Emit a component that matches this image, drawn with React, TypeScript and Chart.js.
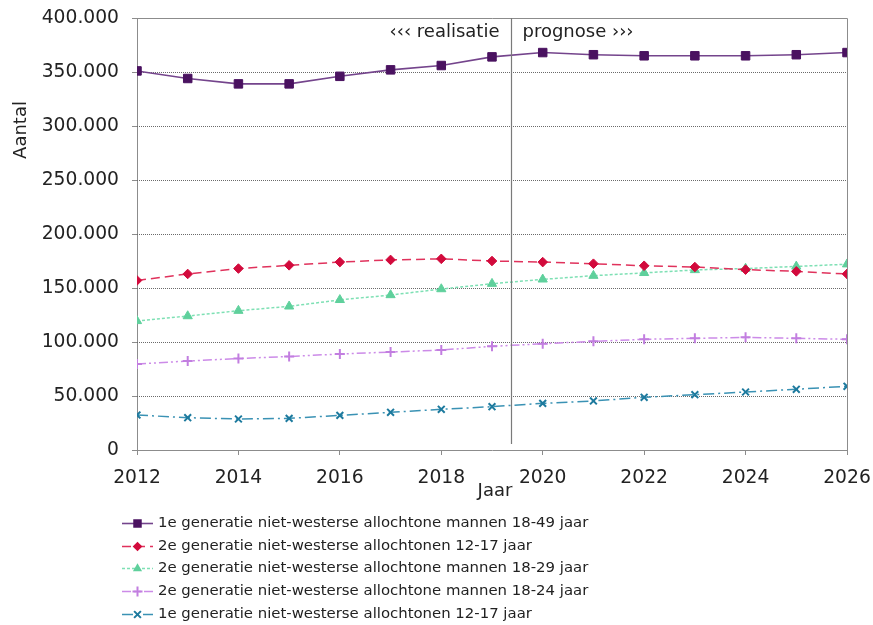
import React, { useEffect, useRef } from "react";
import { Chart, registerables } from "chart.js";

Chart.register(...registerables);

const YEARS = [2012, 2013, 2014, 2015, 2016, 2017, 2018, 2019, 2020, 2021, 2022, 2023, 2024, 2025, 2026];
const SERIES_LABELS = [
  "1e generatie niet-westerse allochtone mannen 18-49 jaar",
  "2e generatie niet-westerse allochtonen 12-17 jaar",
  "2e generatie niet-westerse allochtone mannen 18-29 jaar",
  "2e generatie niet-westerse allochtone mannen 18-24 jaar",
  "1e generatie niet-westerse allochtonen 12-17 jaar",
];
const MANNEN_18_49_1E = [351000, 344000, 339000, 339000, 346000, 352000, 356000, 364000, 368000, 366000, 365000, 365000, 365000, 366000, 368000];
const JONGEREN_12_17_2E = [157000, 163000, 168000, 171000, 174000, 176000, 177000, 175000, 174000, 172500, 170600, 169400, 167000, 165400, 163000];
const MANNEN_18_29_2E = [119500, 124000, 129000, 133000, 139000, 143500, 149000, 154000, 158000, 161400, 164000, 166700, 168000, 170000, 172000];
const MANNEN_18_24_2E = [79600, 82400, 84700, 86600, 88900, 90700, 92600, 96000, 98400, 100600, 102500, 103400, 104300, 103400, 102500];
const JONGEREN_12_17_1E = [32400, 29900, 28700, 29300, 32100, 34900, 37700, 40100, 43200, 45400, 48800, 51200, 53700, 56200, 59000];
const Y_TICKS = [0, 50000, 100000, 150000, 200000, 250000, 300000, 350000, 400000];
const SPLIT_YEAR = 2019.375;
const LEFT_TEXT = "‹‹‹ realisatie";
const RIGHT_TEXT = "prognose ›››";
const Y_TITLE = "Aantal";
const X_TITLE = "Jaar";

const FONT = "'DejaVu Sans', Verdana, sans-serif";

const STYLES = [
  { line: "#74448c", point: "#4a1260", dash: [] as number[], style: "rect", radius: 6, width: 1.6 },
  { line: "#e0325c", point: "#d20a3c", dash: [9, 5], style: "rectRot", radius: 4.8, width: 1.5 },
  { line: "#7ee0b4", point: "#5fd09c", dash: [3, 2], style: "triangle", radius: 5.3, width: 1.5 },
  { line: "#cc8be8", point: "#c27ee0", dash: [9, 3, 2, 3, 2, 3], style: "cross", radius: 5, width: 1.5 },
  { line: "#3a92b4", point: "#1d7a9e", dash: [11, 4, 2, 4], style: "crossRot", radius: 4.8, width: 1.5 },
];
const VALUES = [MANNEN_18_49_1E, JONGEREN_12_17_2E, MANNEN_18_29_2E, MANNEN_18_24_2E, JONGEREN_12_17_1E];

function fmt(v: number): string {
  return String(Math.round(v)).replace(/\B(?=(\d{3})+(?!\d))/g, ".");
}

function drawMarker(ctx: CanvasRenderingContext2D, style: string, x: number, y: number, r: number) {
  ctx.beginPath();
  if (style === "rect") {
    const s = Math.SQRT1_2 * r;
    ctx.rect(x - s, y - s, 2 * s, 2 * s);
    ctx.fill();
  } else if (style === "rectRot") {
    ctx.moveTo(x, y - r);
    ctx.lineTo(x + r, y);
    ctx.lineTo(x, y + r);
    ctx.lineTo(x - r, y);
    ctx.closePath();
    ctx.fill();
  } else if (style === "triangle") {
    ctx.moveTo(x, y - r);
    ctx.lineTo(x + r * 0.866, y + r * 0.5);
    ctx.lineTo(x - r * 0.866, y + r * 0.5);
    ctx.closePath();
    ctx.fill();
  } else if (style === "cross") {
    ctx.moveTo(x, y - r);
    ctx.lineTo(x, y + r);
    ctx.moveTo(x - r, y);
    ctx.lineTo(x + r, y);
    ctx.stroke();
  } else {
    const d = r * Math.SQRT1_2;
    ctx.moveTo(x - d, y - d);
    ctx.lineTo(x + d, y + d);
    ctx.moveTo(x + d, y - d);
    ctx.lineTo(x - d, y + d);
    ctx.stroke();
  }
}

const overlay = {
  id: "overlay",
  beforeDatasetsDraw(chart: any) {
    const { ctx, chartArea: a, scales } = chart;
    const y = scales.y;
    ctx.save();
    ctx.lineWidth = 1;
    ctx.strokeStyle = "#6a6a6a";
    ctx.setLineDash([1, 1]);
    for (const v of Y_TICKS) {
      if (v <= 0 || v >= 400000) continue;
      const py = Math.round(y.getPixelForValue(v)) + 0.5;
      ctx.beginPath();
      ctx.moveTo(a.left, py);
      ctx.lineTo(a.right, py);
      ctx.stroke();
    }
    ctx.setLineDash([]);
    ctx.strokeStyle = "#8c8c8c";
    const top = Math.round(a.top) + 0.5;
    const right = Math.round(a.right) + 0.5;
    ctx.beginPath();
    ctx.moveTo(a.left, top);
    ctx.lineTo(right, top);
    ctx.lineTo(right, a.bottom);
    ctx.stroke();
    ctx.restore();
  },
  afterDatasetsDraw(chart: any) {
    const { ctx, chartArea: a, scales } = chart;
    const x = scales.x;
    const sx = Math.round(x.getPixelForValue(SPLIT_YEAR)) + 0.5;
    ctx.save();
    ctx.strokeStyle = "#7a7a7a";
    ctx.lineWidth = 1.2;
    ctx.beginPath();
    ctx.moveTo(sx, a.top);
    ctx.lineTo(sx, a.bottom - 6);
    ctx.stroke();
    ctx.fillStyle = "#222";
    ctx.font = `18px ${FONT}`;
    ctx.textBaseline = "middle";
    ctx.textAlign = "right";
    ctx.fillText(LEFT_TEXT, sx - 12, 32);
    ctx.textAlign = "left";
    ctx.fillText(RIGHT_TEXT, sx + 11, 32);
    // axis titles
    ctx.textAlign = "center";
    ctx.fillText(X_TITLE, (a.left + a.right) / 2 + 3, 491);
    ctx.save();
    ctx.translate(21, 130);
    ctx.rotate(-Math.PI / 2);
    ctx.fillText(Y_TITLE, 0, 0);
    ctx.restore();
    // legend
    const x0 = 122, x1 = 153, tx = 158;
    const rowY = [522.5, 545.5, 568, 591, 614];
    ctx.font = `14.9px ${FONT}`;
    ctx.textAlign = "left";
    STYLES.forEach((s, i) => {
      const ly = Math.round(rowY[i]) + 0.5;
      ctx.strokeStyle = s.line;
      ctx.lineWidth = s.width;
      ctx.setLineDash(s.dash);
      ctx.beginPath();
      ctx.moveTo(x0, ly);
      ctx.lineTo(x1, ly);
      ctx.stroke();
      ctx.setLineDash([]);
      ctx.fillStyle = s.point;
      ctx.strokeStyle = s.point;
      ctx.lineWidth = 2;
      drawMarker(ctx, s.style, (x0 + x1) / 2, ly, s.radius);
      ctx.fillStyle = "#222";
      ctx.fillText(SERIES_LABELS[i], tx, ly);
    });
    ctx.restore();
  },
};

export default function App() {
  const ref = useRef<HTMLCanvasElement | null>(null);
  useEffect(() => {
    document.body.style.margin = "0";
    const canvas = ref.current;
    if (!canvas) return;
    const chart = new Chart(canvas, {
      type: "line",
      data: {
        datasets: STYLES.map((s, i) => ({
          label: SERIES_LABELS[i],
          data: YEARS.map((yr, j) => ({ x: yr, y: VALUES[i][j] })),
          borderColor: s.line,
          borderWidth: s.width,
          borderDash: s.dash,
          backgroundColor: s.point,
          pointBackgroundColor: s.point,
          pointBorderColor: s.point,
          pointBorderWidth: s.style === "cross" || s.style === "crossRot" ? 2 : 1,
          pointStyle: s.style as any,
          pointRadius: s.radius,
          tension: 0,
          fill: false,
        })),
      },
      plugins: [overlay],
      options: {
        responsive: false,
        animation: false,
        layout: { padding: { left: 0, right: 26, top: 18, bottom: 0 } },
        plugins: { legend: { display: false }, tooltip: { enabled: false } },
        scales: {
          x: {
            type: "linear",
            min: 2012,
            max: 2026,
            afterFit: (s: any) => {
              s.height = 175;
              s.paddingLeft = 0;
              s.paddingRight = 0;
            },
            afterBuildTicks: (s: any) => { s.ticks = YEARS.filter((y) => y % 2 === 0).map((v) => ({ value: v })); },
            ticks: {
              stepSize: 2,
              color: "#222",
              font: { family: FONT, size: 18.7 },
              padding: 12,
              maxRotation: 0,
              callback: (v: any) => String(v),
            },
            grid: { drawOnChartArea: false, drawTicks: true, tickLength: 5, color: "#8c8c8c" },
            border: { display: true, color: "#8c8c8c", width: 1 },
          },
          y: {
            min: 0,
            max: 400000,
            afterFit: (s: any) => {
              s.width = 137;
              s.paddingTop = 0;
              s.paddingBottom = 0;
            },
            afterBuildTicks: (s: any) => { s.ticks = Y_TICKS.map((v) => ({ value: v })); },
            ticks: {
              color: "#222",
              font: { family: FONT, size: 18.7 },
              padding: 13,
              callback: (v: any) => fmt(Number(v)),
            },
            grid: { drawOnChartArea: false, drawTicks: true, tickLength: 5, color: "#8c8c8c" },
            border: { display: true, color: "#8c8c8c", width: 1 },
          },
        },
      },
    });
    return () => chart.destroy();
  }, []);
  return (
    <div style={{ width: 873, height: 625 }}>
      <canvas ref={ref} width={873} height={625} style={{ display: "block" }} />
    </div>
  );
}
